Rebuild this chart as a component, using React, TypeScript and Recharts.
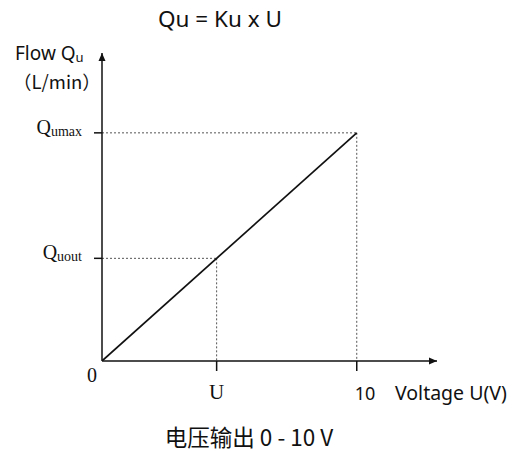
import React from 'react';
import { ComposedChart, Line, XAxis, YAxis, ReferenceLine, ReferenceDot } from 'recharts';

// ---- data ----
const voltage = [0, 10];
const flow = [0, 10];
const uValue = 4.5;
const quoutValue = 4.5;
const qumaxValue = 10;
const uMax = 10;
const xTickValues = [0, uValue, uMax];
const xTickLabels = ['0', 'U', '10'];
const yTickValues = [quoutValue, qumaxValue];
const yTickMain = ['Q', 'Q'];
const yTickSub = ['uout', 'umax'];
const xAxisEnd = 13.15;
const yAxisEnd = 13.5;

const data = voltage.map((v, i) => ({ voltage: v, flow: flow[i] }));

const SERIF = '"Liberation Serif", "DejaVu Serif", serif';
const SANS = '"Noto Sans", "Open Sans", sans-serif';
const CJK = '"Noto Sans CJK SC", "Noto Sans", sans-serif';
const INK = '#111';

const XTick = (props: any) => {
  const { x, y, payload } = props;
  const idx = xTickValues.indexOf(payload.value);
  const label = xTickLabels[idx];
  if (idx === 0) {
    return (
      <text x={x - 10} y={y + 21} textAnchor="middle" fontFamily={SERIF} fontSize={20} fill={INK}>
        {label}
      </text>
    );
  }
  if (idx === 1) {
    return (
      <g>
        <line x1={x} y1={y} x2={x} y2={y + 10} stroke={INK} strokeWidth={1.5} />
        <text x={x} y={y + 38} textAnchor="middle" fontFamily={SERIF} fontSize={21} fill={INK}>
          {label}
        </text>
      </g>
    );
  }
  return (
    <g>
      <line x1={x} y1={y} x2={x} y2={y + 10} stroke={INK} strokeWidth={1.5} />
      <text x={x - 2} y={y + 39} textAnchor="start" fontFamily={SANS} fontSize={18} fill={INK}>
        {label}
      </text>
    </g>
  );
};

const YTick = (props: any) => {
  const { x, y, payload } = props;
  const idx = yTickValues.indexOf(payload.value);
  return (
    <g>
      <line x1={x - 8} y1={y} x2={x} y2={y} stroke={INK} strokeWidth={1.5} />
      <text x={x - 20} y={y + 1} textAnchor="end" fontFamily={SERIF} fill={INK}>
        <tspan fontSize={20}>{yTickMain[idx]}</tspan>
        <tspan fontSize={14} dy={2}>{yTickSub[idx]}</tspan>
      </text>
    </g>
  );
};

const ArrowRight = (p: any) => {
  const { cx, cy } = p;
  return <path d={`M${cx},${cy} L${cx - 8},${cy - 3.5} L${cx - 8},${cy + 3.5} Z`} fill={INK} />;
};
const ArrowUp = (p: any) => {
  const { cx, cy } = p;
  return <path d={`M${cx},${cy} L${cx - 3.5},${cy + 8} L${cx + 3.5},${cy + 8} Z`} fill={INK} />;
};

export default function App() {
  return (
    <div style={{ position: 'absolute', left: 0, top: 0, width: 514, height: 451, background: '#fff' }}>
      <ComposedChart
        width={514}
        height={451}
        data={data}
        margin={{ top: 53, right: 77, bottom: 60, left: 42 }}
      >
        <XAxis
          type="number"
          dataKey="voltage"
          domain={[0, xAxisEnd]}
          ticks={xTickValues}
          interval={0}
          tick={(p: any) => <XTick {...p} />}
          tickLine={false}
          tickSize={0}
          tickMargin={0}
          height={30}
          allowDataOverflow
          axisLine={{ stroke: INK, strokeWidth: 1.5 }}
        />
        <YAxis
          type="number"
          domain={[0, yAxisEnd]}
          ticks={yTickValues}
          interval={0}
          tick={(p: any) => <YTick {...p} />}
          tickLine={false}
          tickSize={0}
          tickMargin={0}
          width={60}
          allowDataOverflow
          axisLine={{ stroke: INK, strokeWidth: 1.5 }}
        />
        <ReferenceLine
          segment={[{ x: 0, y: qumaxValue }, { x: uMax, y: qumaxValue }]}
          stroke="#555"
          strokeWidth={1}
          strokeDasharray="2 2"
        />
        <ReferenceLine
          segment={[{ x: uMax, y: qumaxValue }, { x: uMax, y: 0 }]}
          stroke="#555"
          strokeWidth={1}
          strokeDasharray="2 2"
        />
        <ReferenceLine
          segment={[{ x: 0, y: quoutValue }, { x: uValue, y: quoutValue }]}
          stroke="#555"
          strokeWidth={1}
          strokeDasharray="2 2"
        />
        <ReferenceLine
          segment={[{ x: uValue, y: quoutValue }, { x: uValue, y: 0 }]}
          stroke="#555"
          strokeWidth={1}
          strokeDasharray="2 2"
        />
        <Line
          type="linear"
          dataKey="flow"
          stroke={INK}
          strokeWidth={1.7}
          dot={false}
          activeDot={false}
          isAnimationActive={false}
        />
        <ReferenceDot x={xAxisEnd} y={0} r={4} shape={(p: any) => <ArrowRight {...p} />} />
        <ReferenceDot x={0} y={yAxisEnd} r={4} shape={(p: any) => <ArrowUp {...p} />} />
      </ComposedChart>
      <svg
        width={514}
        height={451}
        style={{ position: 'absolute', left: 0, top: 0, pointerEvents: 'none' }}
      >
        <text x={220} y={27} textAnchor="middle" fontFamily={SANS} fontSize={22.5} fill={INK}>
          Qu = Ku x U
        </text>
        <text x={15} y={60} fontFamily={SANS} fontSize={19} fill={INK}>
          <tspan>Flow Q</tspan>
          <tspan fontSize={13} dy={2}>u</tspan>
        </text>
        <text x={13} y={89} fontFamily={CJK} fontSize={18.5} fill={INK}>
          （L/min）
        </text>
        <text x={395} y={400} fontFamily={SANS} fontSize={19.5} fill={INK}>
          Voltage U(V)
        </text>
        <text x={249} y={446} textAnchor="middle" fontFamily={CJK} fontSize={22.5} fill={INK}>
          电压输出 0 - 10 V
        </text>
      </svg>
    </div>
  );
}
